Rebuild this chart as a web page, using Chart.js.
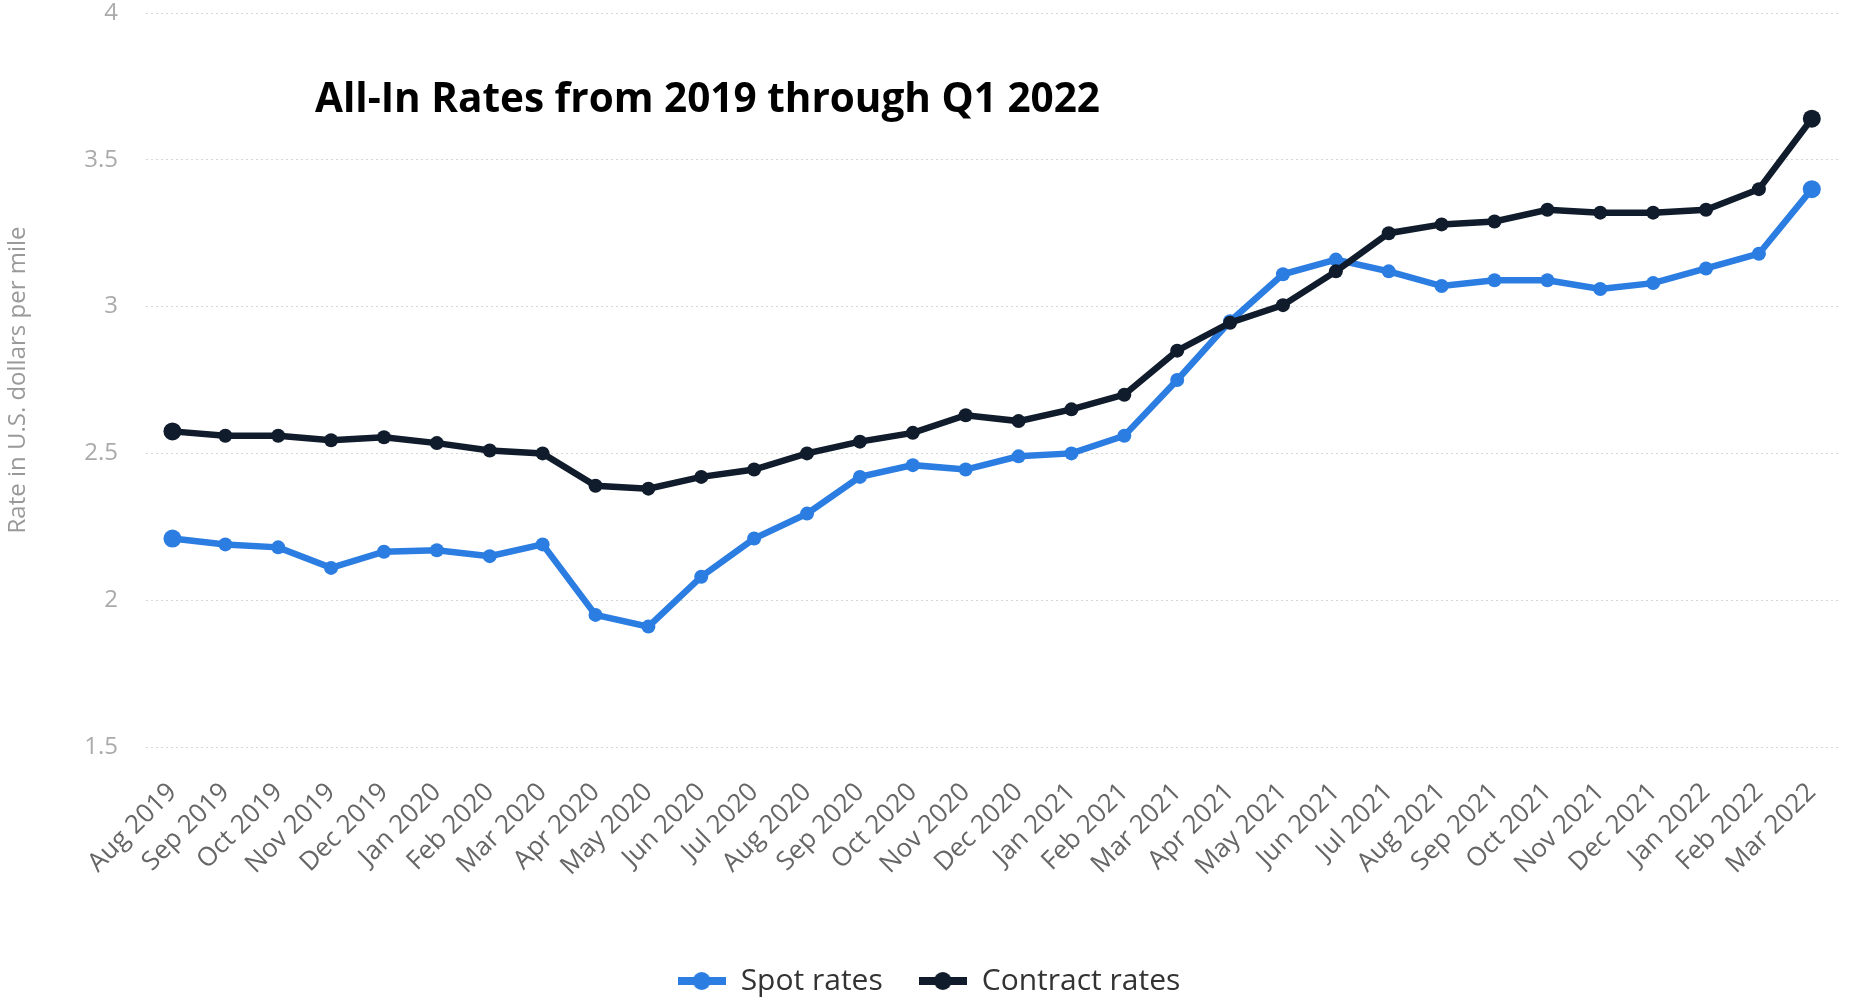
<!DOCTYPE html>
<html lang="en">
<head>
  <meta charset="UTF-8">
  <title>All-In Rates from 2019 through Q1 2022</title>
  <script src="https://cdn.jsdelivr.net/npm/chart.js@4.4.3/dist/chart.umd.min.js"></script>
  <style>
    html, body { margin: 0; padding: 0; background: #fff; overflow: hidden; }
    #wrap { position: relative; width: 1864px; height: 998px; overflow: hidden; }
    #chart-title {
      position: absolute; left: 315px; top: 77px;
      font: bold 40.5px 'Open Sans', sans-serif; line-height: 40px;
      color: #000; white-space: nowrap;
    }
  </style>
</head>
<body>
  <div id="wrap">
    <canvas id="rates-chart" width="1864" height="1006"></canvas>
    <div id="chart-title">All-In Rates from 2019 through Q1 2022</div>
  </div>

  <script>
    const months = [
      'Aug 2019', 'Sep 2019', 'Oct 2019', 'Nov 2019', 'Dec 2019',
      'Jan 2020', 'Feb 2020', 'Mar 2020', 'Apr 2020', 'May 2020', 'Jun 2020',
      'Jul 2020', 'Aug 2020', 'Sep 2020', 'Oct 2020', 'Nov 2020', 'Dec 2020',
      'Jan 2021', 'Feb 2021', 'Mar 2021', 'Apr 2021', 'May 2021', 'Jun 2021',
      'Jul 2021', 'Aug 2021', 'Sep 2021', 'Oct 2021', 'Nov 2021', 'Dec 2021',
      'Jan 2022', 'Feb 2022', 'Mar 2022'
    ];
    const spotRates = [
      2.21, 2.19, 2.18, 2.11, 2.165, 2.17, 2.15, 2.19, 1.95, 1.91, 2.08,
      2.21, 2.295, 2.42, 2.46, 2.445, 2.49, 2.5, 2.56, 2.75, 2.95, 3.11,
      3.16, 3.12, 3.07, 3.09, 3.09, 3.06, 3.08, 3.13, 3.18, 3.40
    ];
    const contractRates = [
      2.575, 2.56, 2.56, 2.545, 2.555, 2.535, 2.51, 2.50, 2.39, 2.38, 2.42,
      2.445, 2.50, 2.54, 2.57, 2.63, 2.61, 2.65, 2.70, 2.85, 2.945, 3.005,
      3.12, 3.25, 3.28, 3.29, 3.33, 3.32, 3.32, 3.33, 3.40, 3.64
    ];
    const seriesNames = ['Spot rates', 'Contract rates'];
    const yTitle = 'Rate in U.S. dollars per mile';

    const SPOT = '#2b7de1';
    const CONTRACT = '#101c2b';

    // little "line with dot" marker like the original legend
    function legendMarker(color) {
      const c = document.createElement('canvas');
      c.width = 48; c.height = 20;
      const g = c.getContext('2d');
      g.strokeStyle = color; g.lineWidth = 8;
      g.beginPath(); g.moveTo(0, 10); g.lineTo(48, 10); g.stroke();
      g.fillStyle = color;
      g.beginPath(); g.arc(24, 10, 9, 0, Math.PI * 2); g.fill();
      return c;
    }
    const markers = [legendMarker(SPOT), legendMarker(CONTRACT)];

    const endRadius = (ctx) => (ctx.dataIndex === 0 || ctx.dataIndex === months.length - 1) ? 9 : 7;

    new Chart(document.getElementById('rates-chart'), {
      type: 'line',
      data: {
        labels: months,
        datasets: [
          {
            label: seriesNames[0],
            data: spotRates,
            borderColor: SPOT,
            backgroundColor: SPOT,
            borderWidth: 6.5,
            pointRadius: endRadius,
            pointBorderWidth: 0,
            tension: 0,
            order: 1
          },
          {
            label: seriesNames[1],
            data: contractRates,
            borderColor: CONTRACT,
            backgroundColor: CONTRACT,
            borderWidth: 6.5,
            pointRadius: endRadius,
            pointBorderWidth: 0,
            tension: 0,
            order: 0
          }
        ]
      },
      options: {
        responsive: false,
        animation: false,
        layout: { padding: { top: 13, right: 6, left: 0, bottom: 0 } },
        scales: {
          x: {
            offset: true,
            grid: { display: false, drawTicks: false },
            border: { display: false },
            ticks: {
              autoSkip: false, minRotation: 45, maxRotation: 45, padding: 30,
              color: '#666', font: { family: "'Open Sans', sans-serif", size: 26 }
            },
            afterFit: (s) => { s.height = 183; }
          },
          y: {
            min: 1.5, max: 4,
            ticks: {
              stepSize: 0.5, padding: 28,
              color: '#aaa', font: { family: "'Open Sans', sans-serif", size: 24 },
              callback: (v) => String(v)
            },
            grid: { color: '#d6d6d6', lineWidth: 1, drawTicks: false },
            border: { display: false, dash: [2, 3] },
            title: {
              display: true, text: yTitle, color: '#999',
              font: { family: "'Open Sans', sans-serif", size: 24 },
              padding: { top: 4, bottom: 0 }
            },
            afterFit: (s) => { s.width = 146; s.paddingTop = 0; s.paddingBottom = 0; }
          }
        },
        plugins: {
          tooltip: { enabled: false },
          legend: {
            position: 'bottom',
            labels: {
              usePointStyle: true,
              pointStyleWidth: 48,
              padding: 36,
              color: '#333',
              font: { family: "'Open Sans', sans-serif", size: 30 },
              generateLabels: (chart) => {
                const items = Chart.defaults.plugins.legend.labels.generateLabels(chart);
                items.sort((a, b) => a.datasetIndex - b.datasetIndex);
                items.forEach(it => { it.pointStyle = markers[it.datasetIndex]; });
                return items;
              }
            }
          }
        }
      }
    });
  </script>
</body>
</html>
